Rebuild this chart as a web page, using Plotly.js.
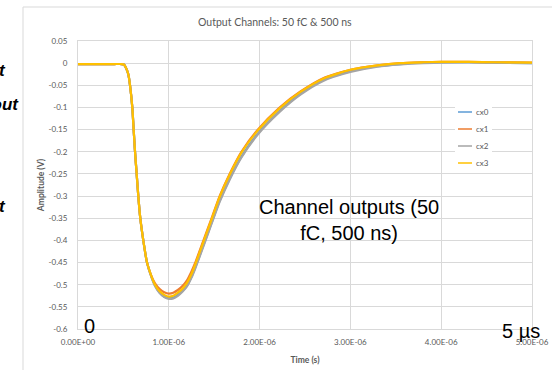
<!DOCTYPE html>
<html>
<head>
<meta charset="utf-8">
<script src="https://cdn.plot.ly/plotly-3.0.1.min.js"></script>
<style>
  html, body { margin: 0; padding: 0; background: #fff; }
  #chart { width: 552px; height: 370px; }
</style>
</head>
<body>
<div id="chart"></div>
<script>
// Channel names and colours
const seriesNames = ['cx0', 'cx1', 'cx2', 'cx3'];
const seriesColors = ['#5B9BD5', '#ED7D31', '#A5A5A5', '#FFC000'];

// Sample times in microseconds
const timeMicro = [0, 0.2, 0.4, 0.48, 0.505, 0.525, 0.554, 0.573, 0.598, 0.613, 0.628, 0.646, 0.664, 0.686, 0.719, 0.76,
  0.80, 0.848, 0.9, 0.95, 1.0, 1.05, 1.1, 1.15, 1.2, 1.25, 1.29, 1.38, 1.47, 1.56, 1.67, 1.8, 1.98, 2.22, 2.45, 2.7,
  3.0, 3.3, 3.55, 3.8, 4.0, 4.3, 4.6, 5.0];

// Output amplitude (V) of each channel
const cx0 = [-0.002, -0.002, -0.002, -0.002, -0.003, -0.009, -0.025, -0.05, -0.10, -0.15, -0.20, -0.25, -0.30, -0.35, -0.40, -0.45,
  -0.477, -0.502, -0.518, -0.527, -0.530, -0.529, -0.523, -0.514, -0.502, -0.482, -0.462, -0.412, -0.361, -0.311, -0.261, -0.211,
  -0.159, -0.108, -0.069, -0.038, -0.018, -0.007, -0.002, 0.001, 0.002, 0.002, 0.001, 0.000];
const cx1 = [-0.002, -0.002, -0.002, -0.002, -0.003, -0.009, -0.025, -0.05, -0.10, -0.15, -0.20, -0.25, -0.30, -0.35, -0.40, -0.45,
  -0.476, -0.497, -0.510, -0.517, -0.520, -0.518, -0.512, -0.503, -0.490, -0.470, -0.451, -0.401, -0.351, -0.300, -0.250, -0.200,
  -0.150, -0.100, -0.064, -0.034, -0.015, -0.005, 0.000, 0.002, 0.003, 0.003, 0.002, 0.001];
const cx2 = [-0.002, -0.002, -0.002, -0.002, -0.003, -0.009, -0.025, -0.05, -0.10, -0.15, -0.20, -0.25, -0.30, -0.35, -0.40, -0.45,
  -0.478, -0.503, -0.519, -0.528, -0.532, -0.531, -0.525, -0.516, -0.504, -0.484, -0.464, -0.414, -0.363, -0.313, -0.263, -0.213,
  -0.161, -0.110, -0.071, -0.040, -0.020, -0.008, -0.003, 0.000, 0.001, 0.002, 0.001, 0.000];
const cx3 = [-0.002, -0.002, -0.002, -0.002, -0.003, -0.009, -0.025, -0.05, -0.10, -0.15, -0.20, -0.25, -0.30, -0.35, -0.40, -0.45,
  -0.476, -0.500, -0.515, -0.523, -0.527, -0.525, -0.518, -0.509, -0.496, -0.476, -0.455, -0.404, -0.353, -0.302, -0.252, -0.202,
  -0.152, -0.102, -0.065, -0.035, -0.015, -0.005, 0.000, 0.002, 0.003, 0.003, 0.002, 0.001];
const channelValues = [cx0, cx1, cx2, cx3];

// Axis ticks
const xTickVals = [0, 1e-6, 2e-6, 3e-6, 4e-6, 5e-6];
const xTickText = ['0.00E+00', '1.00E-06', '2.00E-06', '3.00E-06', '4.00E-06', '5.00E-06'];
const yTickVals = [0.05, 0, -0.05, -0.1, -0.15, -0.2, -0.25, -0.3, -0.35, -0.4, -0.45, -0.5, -0.55, -0.6];
const yTickText = ['0.05', '0', '-0.05', '-0.1', '-0.15', '-0.2', '-0.25', '-0.3', '-0.35', '-0.4', '-0.45', '-0.5', '-0.55', '-0.6'];

// Plot-area geometry in pixels, used to place paper-referenced decorations
const W = 552, H = 370;
const PL = 78, PR = 532, PT = 41, PB = 329;
const px = v => (v - PL) / (PR - PL);
const py = v => (PB - v) / (PB - PT);

const timeSeconds = timeMicro.map(t => t * 1e-6);

const traces = seriesNames.map((name, i) => ({
  type: 'scatter',
  mode: 'lines',
  name: name,
  x: timeSeconds,
  y: channelValues[i],
  line: { color: seriesColors[i], width: 2.2, shape: 'spline', smoothing: 0.6 },
  showlegend: false,
  hoverinfo: 'skip'
}));

const grey = '#595959';
const gridGrey = '#D9D9D9';

const shapes = [
  // outer chart frame
  { type: 'rect', xref: 'paper', yref: 'paper', x0: px(23), x1: px(600), y0: py(420), y1: py(7),
    line: { color: gridGrey, width: 1 }, fillcolor: 'rgba(0,0,0,0)', layer: 'below' },
  // legend box
  { type: 'rect', xref: 'paper', yref: 'paper', x0: px(455), x1: px(492), y0: py(171), y1: py(103),
    line: { width: 0 }, fillcolor: '#ffffff', layer: 'above' }
];

const annotations = [
  { text: 'Output Channels: 50 fC &amp; 500 ns', xref: 'paper', yref: 'paper', x: px(275), y: py(22),
    xanchor: 'center', yanchor: 'middle', showarrow: false,
    font: { family: 'Lato, "Open Sans", sans-serif', size: 10.5, color: grey } },
  { text: 'Channel outputs (50<br>fC, 500 ns)', xref: 'paper', yref: 'paper', x: px(349), y: py(220),
    xanchor: 'center', yanchor: 'middle', showarrow: false,
    font: { family: '"Liberation Sans", Arial, sans-serif', size: 20, color: '#000000' } },
  { text: '0', xref: 'paper', yref: 'paper', x: px(89), y: py(326),
    xanchor: 'center', yanchor: 'middle', showarrow: false,
    font: { family: '"Liberation Sans", Arial, sans-serif', size: 20, color: '#000000' } },
  { text: '5 µs', xref: 'paper', yref: 'paper', x: px(521), y: py(331),
    xanchor: 'center', yanchor: 'middle', showarrow: false,
    font: { family: '"Liberation Sans", Arial, sans-serif', size: 20, color: '#000000' } },
  // side captions running in from the left
  { text: '<b><i>Input</i></b>', xref: 'paper', yref: 'paper', x: px(8), y: py(71),
    xanchor: 'right', yanchor: 'middle', showarrow: false,
    font: { family: '"Liberation Sans", Arial, sans-serif', size: 17, color: '#000000' } },
  { text: '<b><i>Readout</i></b>', xref: 'paper', yref: 'paper', x: px(21), y: py(104),
    xanchor: 'right', yanchor: 'middle', showarrow: false,
    font: { family: '"Liberation Sans", Arial, sans-serif', size: 17, color: '#000000' } },
  { text: '<b><i>Output</i></b>', xref: 'paper', yref: 'paper', x: px(8), y: py(206),
    xanchor: 'right', yanchor: 'middle', showarrow: false,
    font: { family: '"Liberation Sans", Arial, sans-serif', size: 17, color: '#000000' } }
];

// legend entries
const legendRows = [112, 129, 146, 163];
seriesNames.forEach((name, i) => {
  shapes.push({ type: 'line', xref: 'paper', yref: 'paper', x0: px(458), x1: px(472), y0: py(legendRows[i]), y1: py(legendRows[i]),
    line: { color: seriesColors[i], width: 1.5 }, layer: 'above' });
  annotations.push({ text: name, xref: 'paper', yref: 'paper', x: px(474), y: py(legendRows[i]),
    xanchor: 'left', yanchor: 'middle', showarrow: false,
    font: { family: 'Lato, "Open Sans", sans-serif', size: 8, color: grey } });
});

const layout = {
  width: W, height: H,
  margin: { l: PL, r: W - PR, t: PT, b: H - PB, pad: 0 },
  paper_bgcolor: '#ffffff',
  plot_bgcolor: '#ffffff',
  showlegend: false,
  xaxis: {
    range: [0, 5e-6],
    tickvals: xTickVals, ticktext: xTickText,
    showgrid: true, gridcolor: gridGrey, gridwidth: 1,
    showline: true, linecolor: gridGrey, linewidth: 1, mirror: true,
    zeroline: false,
    ticks: 'outside', ticklen: 5, tickcolor: 'rgba(0,0,0,0)',
    tickfont: { family: 'Lato, "Open Sans", sans-serif', size: 8, color: grey },
    title: { text: '<b>Time (s)</b>', standoff: 11,
      font: { family: 'Lato, "Open Sans", sans-serif', size: 8.5, color: grey } }
  },
  yaxis: {
    range: [-0.6, 0.05],
    tickvals: yTickVals, ticktext: yTickText,
    showgrid: true, gridcolor: gridGrey, gridwidth: 1,
    showline: true, linecolor: gridGrey, linewidth: 1, mirror: true,
    zeroline: false,
    ticks: 'outside', ticklen: 8, tickcolor: 'rgba(0,0,0,0)',
    tickfont: { family: 'Lato, "Open Sans", sans-serif', size: 8, color: grey },
    title: { text: '<b>Amplitude (V)</b>', standoff: 2,
      font: { family: 'Lato, "Open Sans", sans-serif', size: 8.5, color: grey } }
  },
  shapes: shapes,
  annotations: annotations
};

Plotly.newPlot('chart', traces, layout, { staticPlot: true, displayModeBar: false });
</script>
</body>
</html>
